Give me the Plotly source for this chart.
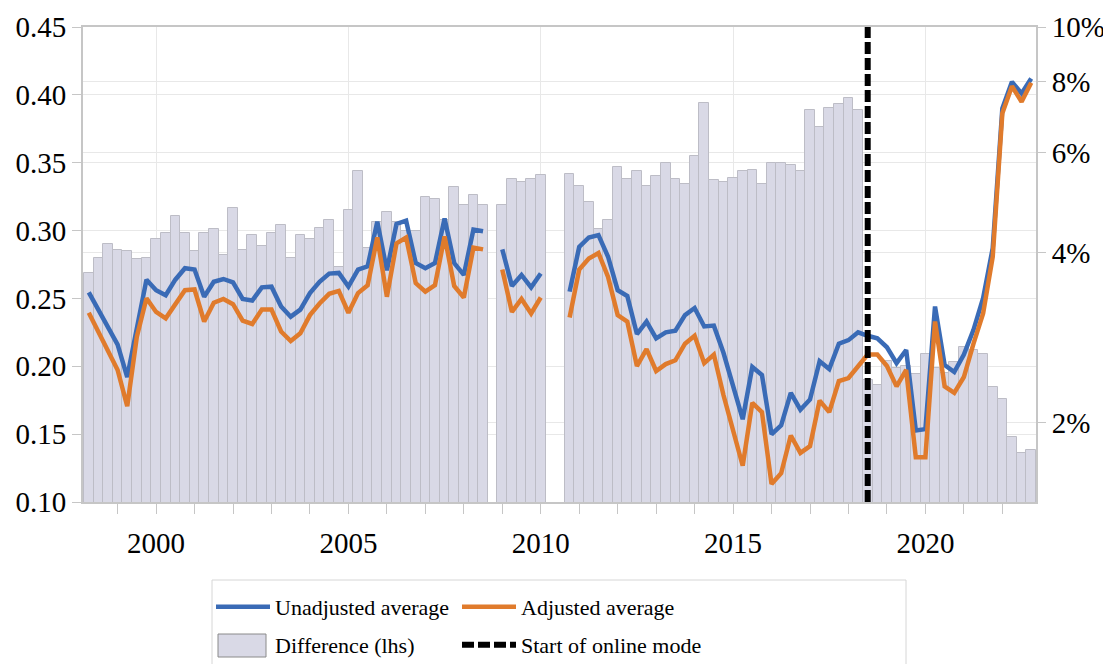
import math
import plotly.graph_objects as go

# Quarterly periods, 1998Q2 .. 2022Q4
quarters = [f"{y}Q{q}" for y in range(1998, 2023) for q in range(1, 5)][1:]

# Difference (lhs), bars
difference = [
    0.269, 0.280, 0.290, 0.286, 0.285, 0.279, 0.280, 0.294, 0.298, 0.311,
    0.298, 0.285, 0.298, 0.301, 0.282, 0.317, 0.286, 0.297, 0.289, 0.298,
    0.304, 0.280, 0.297, 0.294, 0.302, 0.308, 0.273, 0.315, 0.344, 0.287,
    0.306, 0.314, 0.306, 0.300, 0.300, 0.325, 0.323, 0.308, 0.332, 0.319,
    0.326, 0.319, None, 0.319, 0.338, 0.336, 0.338, 0.341, None, None,
    0.342, 0.333, 0.321, 0.301, 0.308, 0.347, 0.338, 0.344, 0.333, 0.340,
    0.350, 0.338, 0.334, 0.355, 0.394, 0.337, 0.336, 0.339, 0.344, 0.345,
    0.334, 0.350, 0.350, 0.348, 0.344, 0.389, 0.376, 0.390, 0.393, 0.398,
    0.389, 0.190, 0.186, 0.204, 0.199, 0.200, 0.194, 0.209, 0.199, 0.195,
    0.203, 0.214, 0.212, 0.209, 0.185, 0.176, 0.148, 0.136, 0.138,
]

# Unadjusted average (rhs, %)
unadjusted = [
    3.40, 3.17, 2.96, 2.75, 2.41, 2.95, 3.58, 3.43, 3.36, 3.58,
    3.75, 3.73, 3.34, 3.55, 3.59, 3.54, 3.31, 3.29, 3.47, 3.48,
    3.21, 3.08, 3.17, 3.39, 3.55, 3.67, 3.68, 3.48, 3.73, 3.78,
    4.53, 3.72, 4.49, 4.55, 3.83, 3.75, 3.83, 4.59, 3.83, 3.65,
    4.39, 4.36, None, 4.05, 3.49, 3.65, 3.47, 3.67, None, None,
    3.41, 4.09, 4.25, 4.29, 3.93, 3.43, 3.35, 2.87, 3.02, 2.82,
    2.89, 2.91, 3.10, 3.19, 2.96, 2.97, 2.66, 2.32, 2.03, 2.51,
    2.43, 1.91, 1.98, 2.26, 2.11, 2.20, 2.57, 2.49, 2.76, 2.80,
    2.89, 2.85, 2.82, 2.72, 2.55, 2.69, 1.94, 1.95, 3.21, 2.53,
    2.46, 2.64, 2.92, 3.32, 4.07, 7.18, 8.00, 7.63, 8.11,
]

# Adjusted average (rhs, %)
adjusted = [
    3.13, 2.90, 2.69, 2.48, 2.14, 2.84, 3.32, 3.14, 3.06, 3.25,
    3.43, 3.44, 3.02, 3.26, 3.31, 3.24, 3.03, 2.99, 3.17, 3.17,
    2.90, 2.79, 2.88, 3.10, 3.25, 3.38, 3.42, 3.13, 3.39, 3.50,
    4.25, 3.34, 4.15, 4.25, 3.53, 3.41, 3.50, 4.27, 3.49, 3.33,
    4.08, 4.05, None, 3.73, 3.14, 3.31, 3.12, 3.33, None, None,
    3.07, 3.73, 3.90, 3.99, 3.62, 3.10, 3.02, 2.52, 2.70, 2.47,
    2.54, 2.58, 2.76, 2.85, 2.55, 2.64, 2.24, 1.94, 1.68, 2.17,
    2.09, 1.56, 1.63, 1.90, 1.77, 1.82, 2.19, 2.09, 2.37, 2.40,
    2.51, 2.64, 2.64, 2.52, 2.32, 2.48, 1.74, 1.74, 3.02, 2.32,
    2.26, 2.41, 2.76, 3.12, 3.93, 7.04, 7.86, 7.38, 7.97,
]

online_start = "2018Q3"

year_ticks = [2000, 2005, 2010, 2015, 2020]
left_ticks = [0.10, 0.15, 0.20, 0.25, 0.30, 0.35, 0.40, 0.45]
right_ticks = [2, 4, 6, 8, 10]
right_range_pct = [1.45, 10]


def qpos(label):
    y, q = label.split("Q")
    return int(y) + (int(q) - 1) / 4


x = [qpos(q) for q in quarters]
pct = lambda v: None if v is None else v / 100

FONT = "Liberation Serif, Times New Roman, serif"
GRID = "#e8e8e8"
AXIS = "#c6c6c6"
BAR_FILL = "#d9d9e6"
BAR_LINE = "#bdbdc6"

# The page body adds an 8px offset; geometry below is in page pixels.
OFF = 8
W, H = 1111 - OFF, 664 - OFF
PL, PR, PT, PB = 83, 1036, 27, 502          # plot area in page px
ML, MR, MT, MB = PL - OFF, W - (PR - OFF), PT - OFF, H - (PB - OFF)
PW, PH = W - ML - MR, H - MT - MB


def px_x(p):
    return (p - OFF - ML) / PW


def px_y(p):
    return (H - MB - (p - OFF)) / PH


fig = go.Figure()
fig.add_trace(go.Scatter(
    x=x, y=[pct(v) for v in unadjusted], yaxis="y2", mode="lines",
    name="Unadjusted average", line=dict(color="#3a6bb6", width=4.5),
    connectgaps=False, legend="legend",
))
fig.add_trace(go.Scatter(
    x=x, y=[pct(v) for v in adjusted], yaxis="y2", mode="lines",
    name="Adjusted average", line=dict(color="#e07b2c", width=4.5),
    connectgaps=False, legend="legend2",
))
fig.add_trace(go.Bar(
    x=x, y=difference, name="Difference (lhs)", width=0.25,
    marker=dict(color=BAR_FILL, line=dict(color=BAR_LINE, width=1)),
    showlegend=False,
))
# legend entry for the bars (its key box is drawn as a shape below)
fig.add_trace(go.Scatter(
    x=[None], y=[None], mode="lines", name="Difference (lhs)",
    line=dict(width=0, color="rgba(0,0,0,0)"), legend="legend3",
    hoverinfo="skip",
))
xs = qpos(online_start)
fig.add_trace(go.Scatter(
    x=[xs, xs], y=[pct(right_range_pct[0]), pct(right_range_pct[1])],
    yaxis="y2", mode="lines", name="Start of online mode",
    line=dict(color="black", width=6, dash="12px,4px"),
    legend="legend4",
))

legend_common = dict(
    orientation="h", xanchor="left", yanchor="middle",
    bgcolor="rgba(0,0,0,0)", borderwidth=0,
    font=dict(family=FONT, size=22, color="black"),
    itemwidth=54,
)
COL1, COL2 = 211, 457
ROW1, ROW2 = 607, 645

fig.update_layout(
    width=W, height=H,
    margin=dict(l=ML, r=MR, t=MT, b=MB, autoexpand=False),
    plot_bgcolor="white", paper_bgcolor="white",
    font=dict(family=FONT, size=29, color="black"),
    bargap=0,
    xaxis=dict(
        range=[1998.1, 2022.875], tickvals=year_ticks,
        ticks="outside", ticklen=10, tickcolor=AXIS, tickwidth=1,
        ticklabelstandoff=4,
        showgrid=True, gridcolor=GRID, gridwidth=1,
        showline=True, linecolor=AXIS, linewidth=2, mirror=True,
        zeroline=False, automargin=False,
        minor=dict(tickvals=list(range(1999, 2023)), ticks="outside",
                   ticklen=10, tickcolor=AXIS, showgrid=False),
    ),
    yaxis=dict(
        range=[0.10, 0.45], tickvals=left_ticks, tickformat=".2f",
        ticks="outside", ticklen=9, tickcolor=AXIS,
        showgrid=True, gridcolor=GRID, gridwidth=1,
        showline=True, linecolor=AXIS, linewidth=2, mirror=True,
        zeroline=False, automargin=False,
    ),
    yaxis2=dict(
        type="log", overlaying="y", side="right",
        range=[math.log10(right_range_pct[0] / 100), math.log10(right_range_pct[1] / 100)],
        tickvals=[v / 100 for v in right_ticks],
        ticktext=[f"{v}%" for v in right_ticks],
        ticks="outside", ticklen=9, tickcolor=AXIS,
        showgrid=True, gridcolor=GRID, gridwidth=1,
        showline=False, zeroline=False, automargin=False,
    ),
    legend=dict(x=px_x(COL1), y=px_y(ROW1), **legend_common),
    legend2=dict(x=px_x(COL2), y=px_y(ROW1), **legend_common),
    legend3=dict(x=px_x(COL1), y=px_y(ROW2), **legend_common),
    legend4=dict(x=px_x(COL2), y=px_y(ROW2), **legend_common),
    shapes=[
        dict(
            type="rect", xref="paper", yref="paper",
            x0=px_x(212), x1=px_x(906), y0=px_y(580), y1=px_y(700),
            line=dict(color="#d6d6d6", width=1), fillcolor="rgba(0,0,0,0)",
            layer="below",
        ),
        dict(
            type="rect", xref="paper", yref="paper",
            x0=px_x(218), x1=px_x(266), y0=px_y(634), y1=px_y(657),
            line=dict(color="#8a8a8a", width=1), fillcolor=BAR_FILL,
            layer="above",
        ),
    ],
    showlegend=True,
)

fig.write_html("out.html")
